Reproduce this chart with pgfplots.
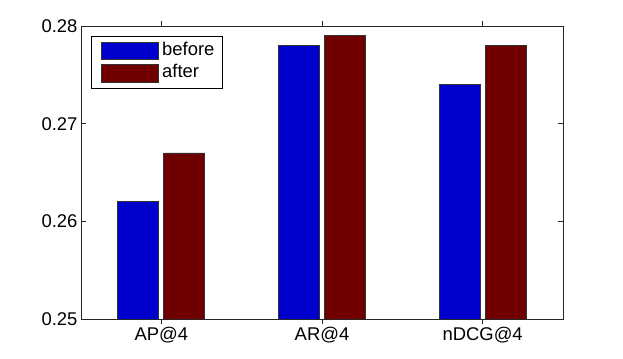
\documentclass[border=0pt]{standalone}
\usepackage{pgfplots}
\pgfplotsset{compat=1.18}
\usepackage{fontspec}
\setmainfont{Liberation Sans}
\definecolor{cbefore}{RGB}{0,0,204}
\definecolor{cafter}{RGB}{112,0,0}
\definecolor{cedge}{RGB}{50,50,50}
\begin{document}
\begin{tikzpicture}
\path[use as bounding box] (0,0) rectangle (623bp,359bp);
\begin{axis}[
  scale only axis,
  width=482bp, height=293bp,
  at={(81bp,40bp)}, anchor=south west,
  xmin=0.5, xmax=3.5,
  ymin=0.25, ymax=0.28,
  xtick=data,
  xticklabels={AP@4,AR@4,nDCG@4},
  ytick={0.25,0.26,0.27,0.28},
  yticklabel style={/pgf/number format/fixed,/pgf/number format/precision=2,/pgf/number format/zerofill},
  /pgf/number format/assume math mode=true,
  tick label style={font=\fontsize{18.5}{20}\selectfont},
  tick align=inside,
  tick pos=both,
  major tick length=5bp,
  axis line style={line width=0.8bp, black!85},
  every tick/.style={black!85, line width=0.8bp},
  ybar=5bp,
  bar width=41bp,
  legend style={at={(0.0207,0.966)}, anchor=north west, draw=black, line width=0.8bp,
    legend cell align=left,
    inner xsep=5bp, inner ysep=3.5bp, row sep=0.6bp,
    nodes={font=\fontsize{18.5}{20}\selectfont, text height=13bp, text depth=4bp, inner ysep=2.5bp, inner xsep=3bp},
    /tikz/every odd column/.append style={column sep=0bp}},
  legend image code/.code={\path (0bp,0bp); \draw[#1,draw=cedge,line width=0.8bp] (5bp,-8.8bp) rectangle (62bp,8.8bp);},
]
\addplot[fill=cbefore, draw=cedge, line width=0.8bp] coordinates {(1,0.262) (2,0.278) (3,0.274)};
\addplot[fill=cafter, draw=cedge, line width=0.8bp] coordinates {(1,0.267) (2,0.279) (3,0.278)};
\legend{before,after}
\end{axis}
\end{tikzpicture}
\end{document}
